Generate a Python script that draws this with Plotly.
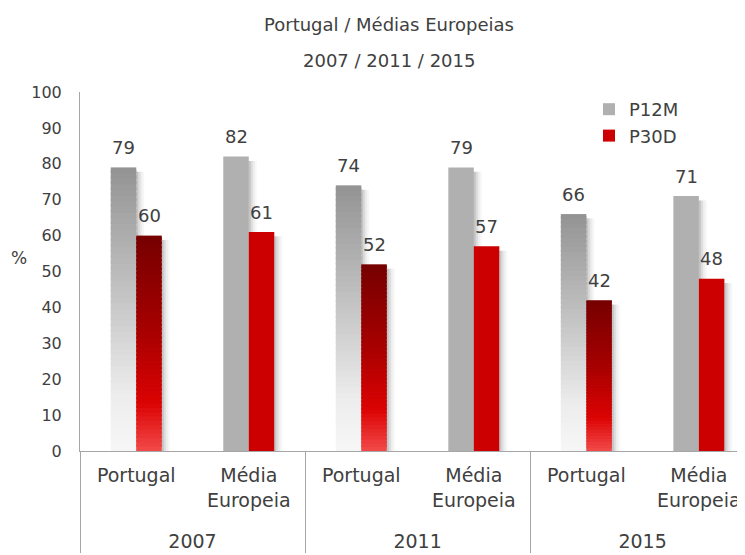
import plotly.graph_objects as go

# data
years = ["2007", "2011", "2015"]
groups = ["Portugal", "Média<br>Europeia<br> "]
p12m_portugal = [79, 74, 66]
p12m_europa = [82, 79, 71]
p30d_portugal = [60, 52, 42]
p30d_europa = [61, 57, 48]
y_ticks = list(range(0, 101, 10))

TXT = "#404040"
LINE = "#a6a6a6"
FONT = "DejaVu Sans"
BAR_W = 0.2267          # one bar, in category units
N_SEG = 50
PX = 1 / 112.5          # one pixel in category units

# the page puts the figure 8px in from the top-left corner
W, H = 737, 547
L, T, B = 72, 84, 104

x_pt = [years, [groups[0]] * 3]
x_eu = [years, [groups[1]] * 3]


def hex_rgb(h):
    h = h.lstrip("#")
    return [int(h[i:i + 2], 16) for i in (0, 2, 4)]


def ramp(stops, t):
    for (p0, c0), (p1, c1) in zip(stops, stops[1:]):
        if p0 <= t <= p1:
            f = (t - p0) / (p1 - p0) if p1 > p0 else 0
            a, b = hex_rgb(c0), hex_rgb(c1)
            return "rgb(%d,%d,%d)" % tuple(round(x + (y - x) * f) for x, y in zip(a, b))
    return stops[-1][1]


gray_stops = [(0, "#939393"), (0.45, "#c4c4c4"), (0.8, "#ececec"), (1, "#f7f7f7")]
red_stops = [(0, "#760000"), (0.45, "#a80000"), (0.78, "#dc0303"), (1, "#f24a4a")]

fig = go.Figure()


def add_shadow(x, values, offset):
    # soft drop shadow on the right side of a bar
    for i, a in enumerate((0.30, 0.18, 0.09, 0.04)):
        fig.add_trace(go.Bar(
            x=x, y=[v - 1.2 for v in values], base=0,
            offset=offset + BAR_W + i * 2 * PX, width=2 * PX,
            marker=dict(color="rgba(60,60,60,%.2f)" % a, line=dict(width=0)),
            showlegend=False, hoverinfo="skip",
        ))


def add_gradient_bar(values, stops, offset):
    for k in range(N_SEG):
        base = [v * k / N_SEG for v in values]
        if k < N_SEG - 1:
            h = [v / N_SEG * 1.6 for v in values]
        else:
            h = [v - b for v, b in zip(values, base)]
        t = 1 - (k + 0.5) / N_SEG
        fig.add_trace(go.Bar(
            x=x_pt, y=h, base=base, offset=offset, width=BAR_W,
            marker=dict(color=ramp(stops, t), line=dict(width=0)),
            showlegend=False, hoverinfo="skip",
        ))
    add_shadow(x_pt, values, offset)


add_gradient_bar(p12m_portugal, gray_stops, -BAR_W)
add_gradient_bar(p30d_portugal, red_stops, 0)

fig.add_trace(go.Bar(x=x_eu, y=p12m_europa, name="P12M", offset=-BAR_W, width=BAR_W,
                     marker=dict(color="#b0b0b0", line=dict(width=0))))
add_shadow(x_eu, p12m_europa, -BAR_W)
fig.add_trace(go.Bar(x=x_eu, y=p30d_europa, name="P30D", offset=0, width=BAR_W,
                     marker=dict(color="#cc0000", line=dict(width=0))))
add_shadow(x_eu, p30d_europa, 0)

# value labels above the bars
for i in range(3):
    for j, (gv, rv) in enumerate([(p12m_portugal[i], p30d_portugal[i]),
                                  (p12m_europa[i], p30d_europa[i])]):
        pos = i * 2 + j
        for off, v in ((-BAR_W / 2, gv), (BAR_W / 2, rv)):
            fig.add_annotation(x=pos + off, y=v, xref="x", yref="y", text=str(v),
                               showarrow=False, yanchor="middle", yshift=20,
                               font=dict(size=18, color=TXT, family=FONT))

pw, ph = W - L, H - T - B


def px_x(x):
    return (x - 8 - L) / pw


def px_y(y):
    return (H - B - (y - 8)) / ph


fig.add_annotation(text="Portugal / Médias Europeias", xref="paper", yref="paper",
                   x=px_x(389), y=px_y(25), showarrow=False,
                   xanchor="center", yanchor="middle",
                   font=dict(size=18, color=TXT, family=FONT))
fig.add_annotation(text="2007 / 2011 / 2015", xref="paper", yref="paper",
                   x=px_x(389), y=px_y(60), showarrow=False,
                   xanchor="center", yanchor="middle",
                   font=dict(size=18, color=TXT, family=FONT))
fig.add_annotation(text="%", xref="paper", yref="paper",
                   x=px_x(19), y=px_y(258), showarrow=False,
                   xanchor="center", yanchor="middle",
                   font=dict(size=17, color=TXT, family=FONT))

fig.update_layout(
    width=W, height=H,
    margin=dict(l=L, r=0, t=T, b=B, autoexpand=False),
    barmode="overlay",
    plot_bgcolor="white", paper_bgcolor="white",
    font=dict(family=FONT, size=17, color=TXT),
    legend=dict(x=px_x(589), y=px_y(91), xanchor="left", yanchor="top",
                font=dict(size=18, color=TXT, family=FONT), bgcolor="rgba(0,0,0,0)",
                itemwidth=30, tracegroupgap=0),
    xaxis=dict(type="multicategory", range=[-0.5, 5.41], showline=True,
               linecolor=LINE, linewidth=1, showgrid=False, ticks="",
               showdividers=True, dividercolor=LINE, dividerwidth=1, automargin=False,
               ticklabelstandoff=7,
               tickfont=dict(size=19, color=TXT, family=FONT)),
    yaxis=dict(range=[0, 100], tickvals=y_ticks, showline=True, linecolor=LINE,
               linewidth=1, showgrid=False, zeroline=False, ticks="", automargin=False,
               tickfont=dict(size=16, color=TXT, family=FONT), ticklabelstandoff=14),
)

fig.write_html("out.html")
